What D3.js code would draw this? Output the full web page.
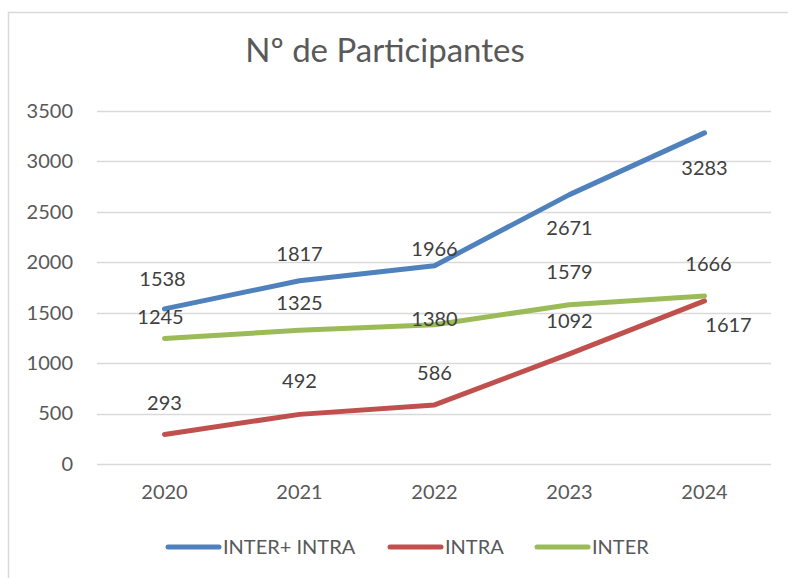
<!DOCTYPE html>
<html>
<head>
<meta charset="utf-8">
<script src="https://cdn.jsdelivr.net/npm/d3@7"></script>
<style>
  body { margin: 0; background: #fff; }
  text { font-family: Lato, "Open Sans", sans-serif; }
</style>
</head>
<body>
<svg></svg>
<script>
const years = ["2020", "2021", "2022", "2023", "2024"];
const interIntra = [1538, 1817, 1966, 2671, 3283];
const intra = [293, 492, 586, 1092, 1617];
const inter = [1245, 1325, 1380, 1579, 1666];
const yTicks = [0, 500, 1000, 1500, 2000, 2500, 3000, 3500];

// label nudges (px) so they sit where the original put them
const labelShift = {
    "INTER+ INTRA": [[-2, -30], [0, -27], [0, -17], [0, 33], [0, 35]],
    "INTRA": [[0, -31], [0, -33], [0, -32], [0, -33], [24, 24]],
    "INTER": [[-4, -21], [0, -27], [0, -6], [0, -33], [4, -32]]
};

const width = 788;
const height = 578;

const series = [
    {name: "INTER+ INTRA", values: interIntra, color: "#4f81bd"},
    {name: "INTRA", values: intra, color: "#c0504d"},
    {name: "INTER", values: inter, color: "#9bbb59"}
];

const svg = d3.select("svg")
    .attr("width", width)
    .attr("height", height);

// chart area border
svg.append("rect")
    .attr("x", 8.5).attr("y", 12.5)
    .attr("width", 800).attr("height", 600)
    .attr("fill", "none")
    .attr("stroke", "#d9d9d9")
    .attr("stroke-width", 1.5);

svg.append("text")
    .attr("x", 385).attr("y", 62)
    .attr("text-anchor", "middle")
    .attr("font-size", 33)
    .attr("fill", "#595959")
    .text("Nº de Participantes");

const x = d3.scaleBand().domain(years).range([97, 772]);
const y = d3.scaleLinear().domain([0, 3500]).range([464, 111]);

// gridlines
svg.append("g")
    .selectAll("line")
    .data(yTicks)
    .join("line")
        .attr("x1", 97).attr("x2", 771)
        .attr("y1", d => Math.round(y(d)) + 0.5)
        .attr("y2", d => Math.round(y(d)) + 0.5)
        .attr("stroke", "#d9d9d9")
        .attr("stroke-width", 1.5);

const yAxis = svg.append("g")
    .attr("transform", "translate(97,0)")
    .call(d3.axisLeft(y).tickValues(yTicks).tickFormat(d3.format("d")).tickSize(0).tickPadding(24));
yAxis.select(".domain").remove();
yAxis.selectAll("text")
    .attr("font-size", 20)
    .attr("font-family", "Lato, sans-serif")
    .attr("fill", "#595959");

const xAxis = svg.append("g")
    .attr("transform", "translate(0,464)")
    .call(d3.axisBottom(x).tickSize(0).tickPadding(21));
xAxis.select(".domain").remove();
xAxis.selectAll("text")
    .attr("font-size", 20)
    .attr("font-family", "Lato, sans-serif")
    .attr("fill", "#595959");

const cx = d => x(d) + x.bandwidth() / 2;

const line = d3.line()
    .x((d, i) => cx(years[i]))
    .y(d => y(d));

svg.append("g")
    .selectAll("path")
    .data(series)
    .join("path")
        .attr("d", d => line(d.values))
        .attr("fill", "none")
        .attr("stroke", d => d.color)
        .attr("stroke-width", 5)
        .attr("stroke-linecap", "round")
        .attr("stroke-linejoin", "round");

// data labels
series.forEach(s => {
    svg.append("g")
        .selectAll("text")
        .data(s.values)
        .join("text")
            .attr("x", (d, i) => cx(years[i]) + labelShift[s.name][i][0])
            .attr("y", (d, i) => y(d) + labelShift[s.name][i][1])
            .attr("dy", "0.35em")
            .attr("text-anchor", "middle")
            .attr("font-size", 20)
            .attr("fill", "#404040")
            .text(d => d);
});

// legend
const legendX = [166, 388, 535];
const legend = svg.append("g")
    .selectAll("g")
    .data(series)
    .join("g")
        .attr("transform", (d, i) => `translate(${legendX[i]},547)`);
legend.append("line")
    .attr("x1", 2).attr("x2", 53)
    .attr("stroke", d => d.color)
    .attr("stroke-width", 5)
    .attr("stroke-linecap", "round");
legend.append("text")
    .attr("x", 57)
    .attr("dy", "0.35em")
    .attr("font-size", 20)
    .attr("fill", "#595959")
    .text(d => d.name);
</script>
</body>
</html>
